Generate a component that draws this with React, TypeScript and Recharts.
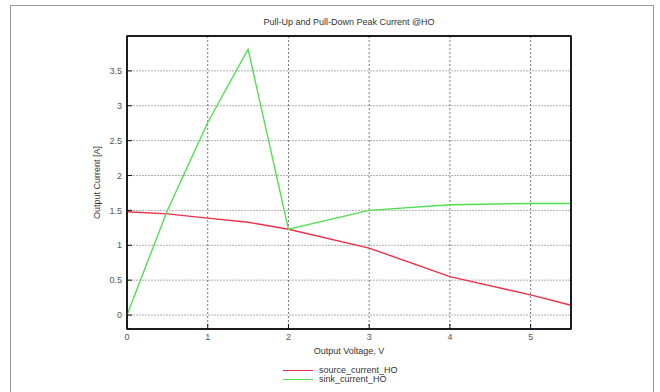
import { CartesianGrid, Line, LineChart, ReferenceArea, XAxis, YAxis } from "recharts";

const voltage = [0, 0.5, 1, 1.5, 2, 3, 4, 5, 5.5];
const sourceCurrent = [1.48, 1.45, 1.39, 1.33, 1.23, 0.96, 0.55, 0.29, 0.14];
const sinkCurrent = [0, 1.5, 2.76, 3.81, 1.23, 1.5, 1.58, 1.6, 1.6];
const xTicks = [0, 1, 2, 3, 4, 5];
const yTicks = [0, 0.5, 1, 1.5, 2, 2.5, 3, 3.5];

const RED = "#ec2f48";
const GREEN = "#52e052";
const FONT = "'Liberation Sans', Arial, sans-serif";

const data = voltage.map((v, i) => ({ v, source: sourceCurrent[i], sink: sinkCurrent[i] }));

const tickStyle = { fill: "#555", fontSize: 9, fontFamily: FONT };

export default function App() {
  return (
    <div
      style={{
        position: "absolute",
        left: 0,
        top: 0,
        width: 660,
        height: 392,
        background: "#fff",
        fontFamily: FONT,
        overflow: "hidden"
      }}
    >
      {/* gray frame of the figure */}
      <div
        style={{
          position: "absolute",
          left: 10,
          top: 5,
          width: 644,
          height: 400,
          border: "1.5px solid #9a9a9a",
          boxSizing: "border-box"
        }}
      />
      <div
        style={{
          position: "absolute",
          top: 17,
          left: 149,
          width: 400,
          textAlign: "center",
          fontSize: 9,
          color: "#333"
        }}
      >
        Pull-Up and Pull-Down Peak Current @HO
      </div>

      <LineChart
        width={660}
        height={392}
        data={data}
        margin={{ top: 35, right: 88, left: 0, bottom: 0 }}
        style={{ position: "absolute", left: 0, top: 0 }}
      >
        <CartesianGrid
          horizontal={true}
          vertical={false}
          stroke="#b0b0b0"
          strokeDasharray="2 1"
          xAxisId="bottom"
          yAxisId="left"
        />
        <CartesianGrid
          horizontal={false}
          vertical={true}
          stroke="#777"
          strokeDasharray="2 2"
          xAxisId="bottom"
          yAxisId="left"
        />
        <XAxis
          xAxisId="bottom"
          dataKey="v"
          type="number"
          domain={[0, 5.5]}
          ticks={xTicks}
          height={63}
          tickSize={-5}
          tickMargin={10}
          axisLine={{ stroke: "#111", strokeWidth: 1.5 }}
          tickLine={{ stroke: "#111" }}
          tick={tickStyle}
          label={{
            value: "Output Voltage, V",
            position: "insideTop",
            offset: 19,
            fill: "#333",
            fontSize: 9,
            fontFamily: FONT
          }}
        />
        <XAxis
          xAxisId="top"
          orientation="top"
          dataKey="v"
          type="number"
          domain={[0, 5.5]}
          ticks={xTicks}
          height={1}
          tickSize={-5}
          tick={false}
          axisLine={{ stroke: "#111", strokeWidth: 1.5 }}
          tickLine={{ stroke: "#111" }}
        />
        <YAxis
          yAxisId="left"
          type="number"
          domain={[-0.2, 4]}
          ticks={yTicks}
          width={127}
          tickSize={-5}
          tickMargin={10}
          axisLine={{ stroke: "#111", strokeWidth: 1.5 }}
          tickLine={{ stroke: "#111" }}
          tick={tickStyle}
          label={{
            value: "Output Current [A]",
            angle: -90,
            position: "insideRight",
            offset: 30,
            style: { textAnchor: "middle" },
            fill: "#333",
            fontSize: 9,
            fontFamily: FONT
          }}
        />
        <YAxis
          yAxisId="right"
          orientation="right"
          type="number"
          domain={[-0.2, 4]}
          ticks={yTicks}
          width={1}
          tickSize={-5}
          tick={false}
          axisLine={{ stroke: "#111", strokeWidth: 1.5 }}
          tickLine={{ stroke: "#111" }}
        />
        {/* plot frame */}
        <ReferenceArea
          xAxisId="bottom"
          yAxisId="left"
          x1={0}
          x2={5.5}
          y1={-0.2}
          y2={4}
          fill="none"
          fillOpacity={0}
          stroke="#111"
          strokeWidth={1.5}
          ifOverflow="visible"
        />
        <Line
          xAxisId="bottom"
          yAxisId="left"
          type="linear"
          dataKey="source"
          stroke={RED}
          strokeWidth={1.4}
          dot={false}
          isAnimationActive={false}
        />
        <Line
          xAxisId="bottom"
          yAxisId="left"
          type="linear"
          dataKey="sink"
          stroke={GREEN}
          strokeWidth={1.4}
          dot={false}
          isAnimationActive={false}
        />
      </LineChart>

      {/* legend */}
      <div style={{ position: "absolute", left: 283, top: 366, fontSize: 9, color: "#333", lineHeight: "9px" }}>
        <div style={{ display: "flex", alignItems: "center", gap: 6 }}>
          <span style={{ display: "inline-block", width: 30, height: 1.4, background: RED }} />
          <span>source_current_HO</span>
        </div>
        <div style={{ display: "flex", alignItems: "center", gap: 6 }}>
          <span style={{ display: "inline-block", width: 30, height: 1.4, background: GREEN }} />
          <span>sink_current_HO</span>
        </div>
      </div>
    </div>
  );
}
